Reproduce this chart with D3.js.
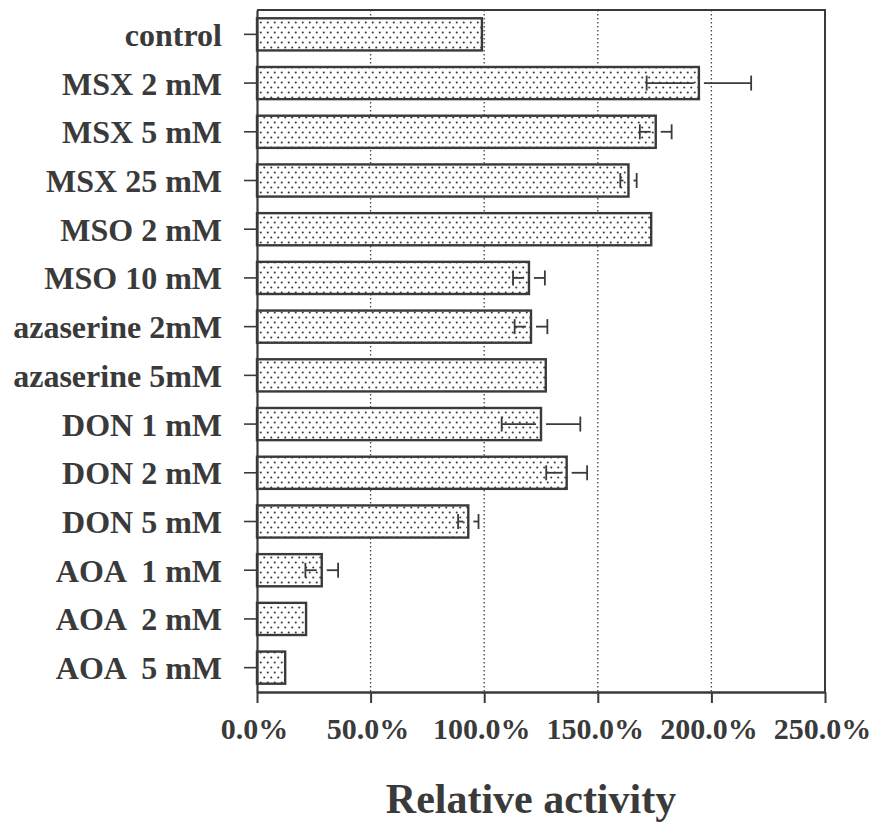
<!DOCTYPE html>
<html>
<head>
<meta charset="utf-8">
<script src="https://cdn.jsdelivr.net/npm/d3@7"></script>
<style>
  html, body { margin: 0; padding: 0; background: #fff; }
  svg { display: block; }
  text { font-family: "Liberation Serif", "Times New Roman", Times, serif; font-weight: bold; fill: #3a3a3a; white-space: pre; }
</style>
</head>
<body>
<svg id="chart" width="876" height="828"></svg>
<script>
// Treatments, relative activity (% of control) and error (± %, null = none shown)
const categories = [
  "control", "MSX 2 mM", "MSX 5 mM", "MSX 25 mM", "MSO 2 mM", "MSO 10 mM",
  "azaserine 2mM", "azaserine 5mM", "DON 1 mM", "DON 2 mM", "DON 5 mM",
  "AOA  1 mM", "AOA  2 mM", "AOA  5 mM"
];
const values = [99, 194.5, 175.5, 163.5, 173.5, 119.7, 120.6, 127.1, 125, 136.3, 93, 28.5, 21.6, 12.4];
const errors = [null, 23, 7, 3.6, null, 7, 7.2, null, 17.3, 9, 4.5, 7.2, null, null];
const xTicks = [0, 50, 100, 150, 200, 250];
const xTitle = "Relative activity";

const ink = "#3a3a3a";
const svg = d3.select("#chart");

const plotLeft = 257, plotRight = 825, plotTop = 10, plotBottom = 692;

const x = d3.scaleLinear().domain([0, 250]).range([plotLeft, plotRight]);
const y = d3.scaleBand().domain(categories).range([plotTop, plotBottom]).paddingInner(0.34).paddingOuter(0.17);

// dotted fill used by all bars
const defs = svg.append("defs");
const pat = defs.append("pattern")
  .attr("id", "dots").attr("patternUnits", "userSpaceOnUse")
  .attr("width", 7).attr("height", 10);
pat.append("rect").attr("width", 7).attr("height", 10).attr("fill", "#fff");
pat.append("circle").attr("cx", 1.75).attr("cy", 2.5).attr("r", 1.05).attr("fill", "#3a3a3a");
pat.append("circle").attr("cx", 5.25).attr("cy", 7.5).attr("r", 1.05).attr("fill", "#3a3a3a");

// dotted vertical gridlines
svg.append("g").selectAll("line")
  .data(xTicks.filter(t => t > 0 && t < 250))
  .join("line")
  .attr("x1", d => x(d)).attr("x2", d => x(d))
  .attr("y1", plotTop).attr("y2", plotBottom)
  .attr("stroke", "#444").attr("stroke-width", 1.3)
  .attr("stroke-dasharray", "1.5,2.5");

// frame: top and right edges
svg.append("path")
  .attr("d", `M${plotLeft},${plotTop}H${plotRight}V${plotBottom}`)
  .attr("fill", "none").attr("stroke", ink).attr("stroke-width", 2);

// bars
svg.append("g").selectAll("rect")
  .data(categories)
  .join("rect")
  .attr("x", x(0))
  .attr("y", d => y(d))
  .attr("width", (d, i) => x(values[i]) - x(0))
  .attr("height", y.bandwidth())
  .attr("fill", "url(#dots)")
  .attr("stroke", ink).attr("stroke-width", 2.4);

// error bars, with a small gap at the bar end
const gap = 5, capH = 15;
const eb = svg.append("g").attr("stroke", ink).attr("stroke-width", 1.8).attr("fill", "none");
categories.forEach((c, i) => {
  const e = errors[i];
  if (e == null) return;
  const cy = y(c) + y.bandwidth() / 2;
  const xv = x(values[i]), xlo = x(values[i] - e), xhi = x(values[i] + e);
  if (xv - gap > xlo) eb.append("line").attr("x1", xlo).attr("x2", xv - gap).attr("y1", cy).attr("y2", cy);
  if (xv + gap < xhi) eb.append("line").attr("x1", xv + gap).attr("x2", xhi).attr("y1", cy).attr("y2", cy);
  eb.append("line").attr("x1", xlo).attr("x2", xlo).attr("y1", cy - capH / 2).attr("y2", cy + capH / 2);
  eb.append("line").attr("x1", xhi).attr("x2", xhi).attr("y1", cy - capH / 2).attr("y2", cy + capH / 2);
});

// y axis
const yAxis = svg.append("g")
  .attr("transform", `translate(${plotLeft},0)`)
  .call(d3.axisLeft(y).tickSize(13).tickSizeOuter(0).tickPadding(22));
yAxis.select(".domain").attr("stroke", ink).attr("stroke-width", 2.2);
yAxis.selectAll(".tick line").attr("stroke", ink).attr("stroke-width", 1.6);
yAxis.selectAll(".tick text").attr("font-size", 32).attr("fill", ink).attr("dy", "0.36em")
  .attr("font-family", '"Liberation Serif", "Times New Roman", serif').attr("font-weight", "bold");

// x axis
const xAxis = svg.append("g")
  .attr("transform", `translate(0,${plotBottom})`)
  .call(d3.axisBottom(x).tickValues(xTicks).tickSize(11).tickSizeOuter(0).tickPadding(15)
    .tickFormat(d => d.toFixed(1) + "%"));
xAxis.select(".domain").attr("stroke", ink).attr("stroke-width", 2.5);
xAxis.selectAll(".tick line").attr("stroke", ink).attr("stroke-width", 2);
xAxis.selectAll(".tick text").attr("font-size", 30).attr("fill", ink).attr("dx", -3)
  .attr("font-family", '"Liberation Serif", "Times New Roman", serif').attr("font-weight", "bold");

// axis title
svg.append("text")
  .attr("x", 531).attr("y", 813)
  .attr("text-anchor", "middle")
  .attr("font-size", 42)
  .text(xTitle);
</script>
</body>
</html>
